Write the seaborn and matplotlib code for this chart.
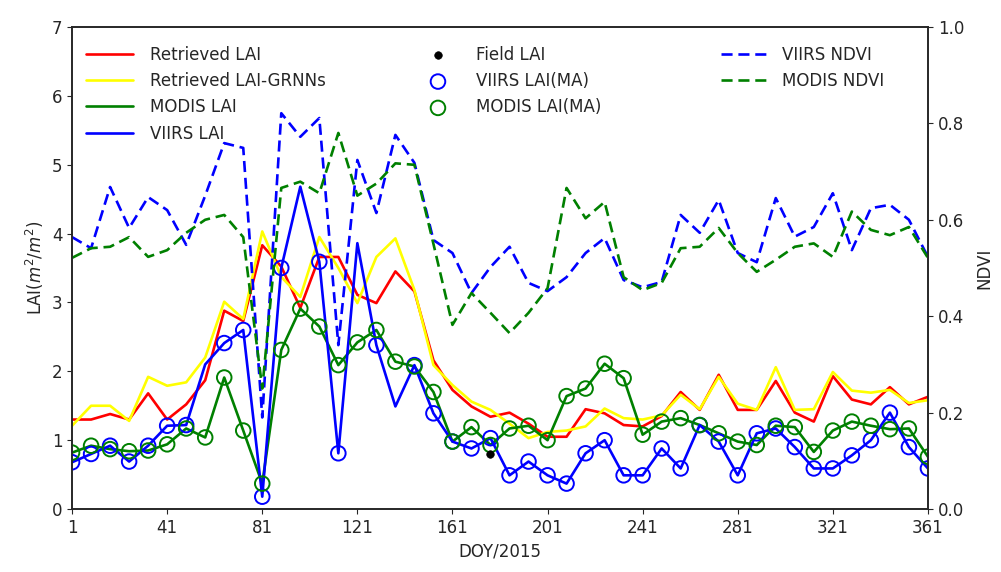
import numpy as np
import pandas as pd
import matplotlib
matplotlib.use("Agg")
import matplotlib.pyplot as plt
import seaborn as sns

# ---------------- data ----------------
doy = list(range(1, 362, 8))  # 46 composites

retrieved_lai = [1.30, 1.30, 1.38, 1.30, 1.68, 1.30, 1.52, 1.87, 2.88, 2.73,
                 3.83, 3.52, 2.92, 3.66, 3.66, 3.11, 2.99, 3.45, 3.16, 2.16,
                 1.73, 1.49, 1.34, 1.40, 1.24, 1.05, 1.05, 1.45, 1.39, 1.22,
                 1.20, 1.35, 1.70, 1.44, 1.95, 1.44, 1.44, 1.86, 1.40, 1.27,
                 1.93, 1.59, 1.52, 1.77, 1.52, 1.63]

retrieved_lai_grnn = [1.21, 1.50, 1.50, 1.28, 1.92, 1.79, 1.84, 2.20, 3.01, 2.76,
                      4.03, 3.37, 3.08, 3.95, 3.50, 2.99, 3.66, 3.93, 3.18, 2.09,
                      1.80, 1.56, 1.44, 1.24, 1.03, 1.12, 1.14, 1.20, 1.46, 1.32,
                      1.30, 1.36, 1.66, 1.45, 1.92, 1.53, 1.44, 2.06, 1.44, 1.45,
                      1.99, 1.72, 1.69, 1.73, 1.54, 1.58]

modis_lai = [0.82, 0.92, 0.87, 0.84, 0.85, 0.94, 1.17, 1.04, 1.91, 1.14,
             0.37, 2.31, 2.91, 2.65, 2.09, 2.42, 2.60, 2.14, 2.07, 1.70,
             0.98, 1.19, 0.93, 1.17, 1.21, 1.00, 1.64, 1.75, 2.11, 1.90,
             1.08, 1.27, 1.32, 1.22, 1.10, 0.98, 0.93, 1.21, 1.19, 0.83,
             1.14, 1.27, 1.21, 1.16, 1.17, 0.76]

viirs_lai = [0.68, 0.80, 0.92, 0.69, 0.92, 1.21, 1.22, 2.10, 2.41, 2.60,
             0.18, 3.50, 4.68, 3.59, 0.81, 3.86, 2.38, 1.49, 2.09, 1.39,
             0.98, 0.88, 1.03, 0.49, 0.69, 0.49, 0.37, 0.81, 1.00, 0.49,
             0.49, 0.88, 0.59, 1.22, 0.98, 0.49, 1.10, 1.17, 0.90, 0.59,
             0.59, 0.78, 1.00, 1.40, 0.90, 0.59]

nan = np.nan
viirs_lai_ma = [0.68, 0.80, 0.92, 0.69, 0.92, 1.21, 1.22, nan, 2.41, 2.60,
                0.18, 3.50, nan, 3.59, 0.81, nan, 2.38, nan, 2.09, 1.39,
                0.98, 0.88, 1.03, 0.49, 0.69, 0.49, 0.37, 0.81, 1.00, 0.49,
                0.49, 0.88, 0.59, 1.22, 0.98, 0.49, 1.10, 1.17, 0.90, 0.59,
                0.59, 0.78, 1.00, 1.40, 0.90, 0.59]

modis_lai_ma = [0.82, 0.92, 0.87, 0.84, 0.85, 0.94, 1.17, 1.04, 1.91, 1.14,
                0.37, 2.31, 2.91, 2.65, 2.09, 2.42, 2.60, 2.14, 2.07, 1.70,
                0.98, 1.19, 0.93, 1.17, 1.21, 1.00, 1.64, 1.75, 2.11, 1.90,
                1.08, 1.27, 1.32, 1.22, 1.10, 0.98, 0.93, 1.21, 1.19, 0.83,
                1.14, 1.27, 1.21, 1.16, 1.17, 0.76]

field_doy = [177]
field_lai = [0.80]

viirs_ndvi = [0.564, 0.541, 0.668, 0.583, 0.647, 0.620, 0.548, 0.650, 0.759, 0.749,
              0.190, 0.821, 0.772, 0.811, 0.340, 0.724, 0.614, 0.776, 0.718, 0.558,
              0.531, 0.448, 0.502, 0.544, 0.469, 0.452, 0.481, 0.531, 0.562, 0.475,
              0.460, 0.471, 0.610, 0.573, 0.641, 0.531, 0.512, 0.645, 0.565, 0.585,
              0.655, 0.537, 0.624, 0.631, 0.600, 0.523]

modis_ndvi = [0.521, 0.541, 0.544, 0.564, 0.523, 0.537, 0.573, 0.600, 0.610, 0.564,
              0.250, 0.666, 0.679, 0.655, 0.780, 0.650, 0.675, 0.717, 0.714, 0.550,
              0.382, 0.448, 0.407, 0.365, 0.407, 0.458, 0.666, 0.603, 0.637, 0.481,
              0.454, 0.469, 0.541, 0.544, 0.583, 0.531, 0.492, 0.517, 0.544, 0.551,
              0.523, 0.617, 0.579, 0.568, 0.585, 0.521]

xticks = [1, 41, 81, 121, 161, 201, 241, 281, 321, 361]

# ---------------- plot ----------------
sns.set_style("ticks")
plt.rcParams['font.family'] = ['DejaVu Sans']
plt.rcParams['font.size'] = 12

fig = plt.figure(figsize=(10.01, 5.72), dpi=100)
ax = fig.add_axes([0.072, 0.110, 0.855, 0.843])

lw = 1.9
sns.lineplot(x=doy, y=retrieved_lai, ax=ax, color='red', lw=lw, label='Retrieved LAI', legend=False)
sns.lineplot(x=doy, y=retrieved_lai_grnn, ax=ax, color='yellow', lw=lw, label='Retrieved LAI-GRNNs', legend=False)
sns.lineplot(x=doy, y=modis_lai, ax=ax, color='green', lw=lw, label='MODIS LAI', legend=False)
sns.lineplot(x=doy, y=viirs_lai, ax=ax, color='blue', lw=lw, label='VIIRS LAI', legend=False)

sns.scatterplot(x=field_doy, y=field_lai, ax=ax, color='black', s=30,
                edgecolor='black', label='Field LAI', legend=False, zorder=5)
ax.scatter(doy, viirs_lai_ma, s=110, facecolors='none', edgecolors='blue',
           linewidths=1.4, label='VIIRS LAI(MA)', zorder=4)
ax.scatter(doy, modis_lai_ma, s=110, facecolors='none', edgecolors='green',
           linewidths=1.4, label='MODIS LAI(MA)', zorder=4)

ax.set_xlim(1, 361)
ax.set_ylim(0, 7)
ax.set_xticks(xticks)
ax.set_yticks(range(0, 8))
ax.set_xlabel('DOY/2015', fontsize=12)
ax.set_ylabel('LAI($m^2/m^2$)', fontsize=12)
ax.tick_params(labelsize=12)

ax2 = ax.twinx()
sns.lineplot(x=doy, y=viirs_ndvi, ax=ax2, color='blue', lw=lw, label='VIIRS NDVI', legend=False)
sns.lineplot(x=doy, y=modis_ndvi, ax=ax2, color='green', lw=lw, label='MODIS NDVI', legend=False)
for l in ax2.get_lines():
    l.set_linestyle((0, (4.2, 2.2)))
ax2.set_ylim(0, 1.0)
ax2.set_yticks([0.0, 0.2, 0.4, 0.6, 0.8, 1.0])
ax2.set_ylabel('NDVI', fontsize=12, labelpad=8)
ax2.tick_params(labelsize=12)

for a in (ax, ax2):
    for s in a.spines.values():
        s.set_visible(True)
        s.set_linewidth(1.2)

h1, l1 = ax.get_legend_handles_labels()
h2, l2 = ax2.get_legend_handles_labels()
d1 = dict(zip(l1, h1))
d2 = dict(zip(l2, h2))

common = dict(frameon=False, fontsize=12, labelspacing=0.5, borderaxespad=0.0)
names1 = ['Retrieved LAI', 'Retrieved LAI-GRNNs', 'MODIS LAI', 'VIIRS LAI']
leg1 = ax2.legend([d1[k] for k in names1], names1,
                  loc='upper left', bbox_to_anchor=(0.009, 0.975), handlelength=2.8,
                  handletextpad=1.0, **common)
ax2.add_artist(leg1)
names2 = ['Field LAI', 'VIIRS LAI(MA)', 'MODIS LAI(MA)']
leg2 = ax2.legend([d1[k] for k in names2], names2,
                  loc='upper left', bbox_to_anchor=(0.41, 0.975), handlelength=1.0,
                  handletextpad=1.8, **common)
ax2.add_artist(leg2)
names3 = ['VIIRS NDVI', 'MODIS NDVI']
leg3 = ax2.legend([d2[k] for k in names3], names3,
                  loc='upper left', bbox_to_anchor=(0.75, 0.975), handlelength=2.8,
                  handletextpad=0.9, **common)

fig.savefig('out.png', dpi=100)
